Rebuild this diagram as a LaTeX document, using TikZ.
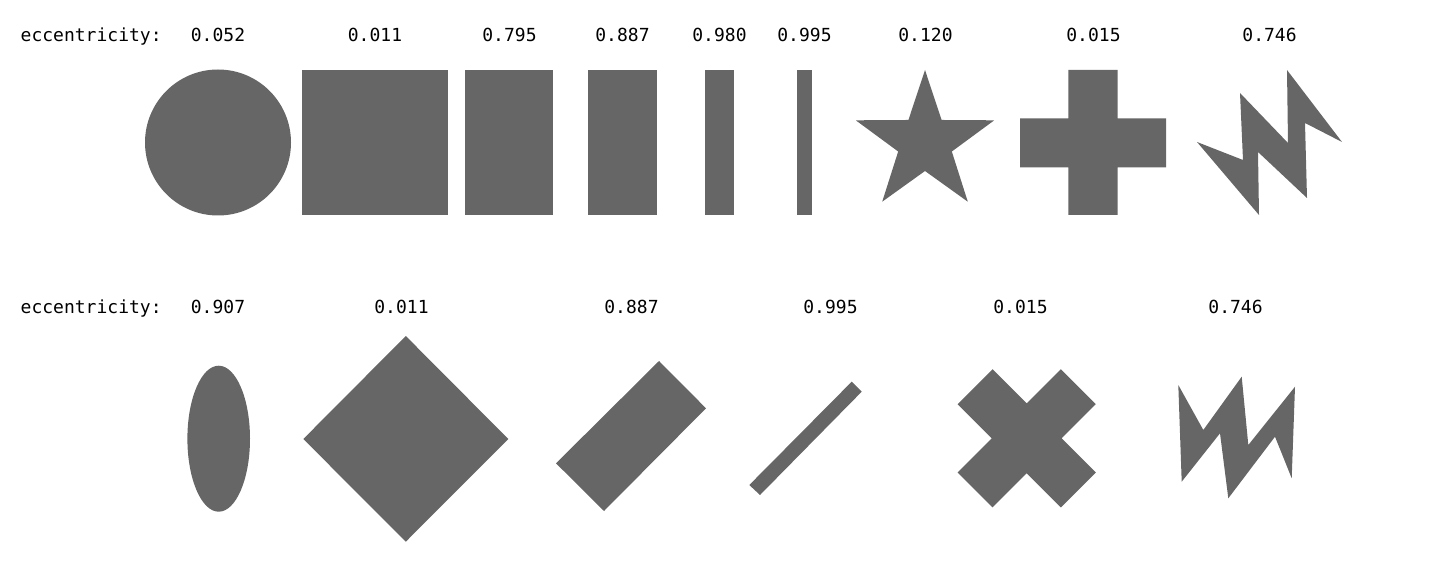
\documentclass[tikz,border=0pt]{standalone}
\usepackage{fontspec}
\setmonofont{DejaVu Sans Mono}
\usepackage{tikz}
\usetikzlibrary{positioning}
\definecolor{shapegray}{RGB}{102,102,102}

\begin{document}
\begin{tikzpicture}[
    x=0.01cm, y=-0.01cm,
    blob/.style={fill=shapegray, draw=none},
    ecc/.style={font=\ttfamily\fontsize{5.12}{6}\selectfont, inner sep=0pt, anchor=base}
]
\useasboundingbox (0,0) rectangle (1445,564);

% labels
\node[ecc, anchor=base west] (toptitle) at (20,42) {eccentricity:};
\foreach \x/\v [count=\i] in {218/0.052, 375/0.011, 509.5/0.795, 622.5/0.887,
    719.5/0.980, 804.5/0.995, 925.5/0.120, 1093.5/0.015, 1269.5/0.746}
  \node[ecc] (topval\i) at (\x,42) {\v};
\node[ecc, anchor=base west] (bottitle) at (20,314) {eccentricity:};
\foreach \x/\v [count=\i] in {218/0.907, 401.5/0.011, 631.5/0.887,
    830.5/0.995, 1020.5/0.015, 1235.5/0.746}
  \node[ecc] (botval\i) at (\x,314) {\v};

% top row
\fill[blob] (218,142.5) circle (73);
\fill[blob] (302.3,70) rectangle (448.3,215);
\fill[blob] (465,70) rectangle (553.3,215);
\fill[blob] (588.3,70) rectangle (656.7,215);
\fill[blob] (705,70) rectangle (734.3,215);
\fill[blob] (797,70) rectangle (812,215);
\fill[blob, shift={(925,142.8)}] (-90:72.8)
  \foreach \a in {0,...,4}{ -- (-90+72*\a:72.8) -- (-54+72*\a:28.2) } -- cycle;
\fill[blob] (1020,118.3) rectangle (1166,167.3) (1068.3,70) rectangle (1117.7,215);
\fill[blob] (1197,142) -- (1243,160) -- (1240,93) -- (1288,143) -- (1287,70)
  -- (1342,142) -- (1305,123) -- (1307,198) -- (1258,152) -- (1259,215) -- cycle;

% bottom row
\fill[blob] (218.7,438.7) ellipse [x radius=31.3, y radius=73];
\fill[blob] (303.3,439) -- (405.8,336) -- (508.3,439) -- (405.8,541.7) -- cycle;
\fill[blob] (659,361) -- (706,408.3) -- (604,511) -- (556,463.3) -- cycle;
\fill[blob] (851.7,381.7) -- (861.7,391.7) -- (760,495) -- (749.3,485) -- cycle;
\fill[blob, shift={(1026.7,438.3)}, rotate=45]
  (-73,-24.7) rectangle (73,24.7) (-24.7,-73) rectangle (24.7,73);
\fill[blob] (1178.3,385) -- (1203.3,430) -- (1241.7,376.7) -- (1248.3,445)
  -- (1295,386.7) -- (1291.7,478.3) -- (1275,436.7) -- (1228.3,498.3)
  -- (1220,433.3) -- (1181.7,481.7) -- cycle;
\end{tikzpicture}
\end{document}
